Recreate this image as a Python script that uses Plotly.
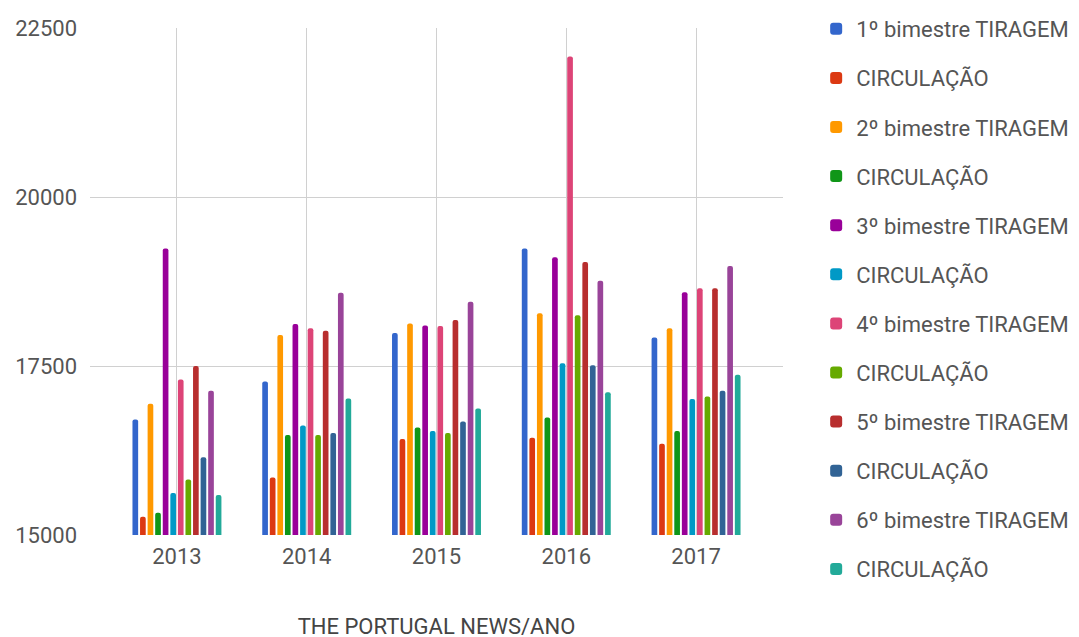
import plotly.graph_objects as go

years = ["2013", "2014", "2015", "2016", "2017"]

series_names = [
    "1º bimestre TIRAGEM", "CIRCULAÇÃO",
    "2º bimestre TIRAGEM", "CIRCULAÇÃO",
    "3º bimestre TIRAGEM", "CIRCULAÇÃO",
    "4º bimestre TIRAGEM", "CIRCULAÇÃO",
    "5º bimestre TIRAGEM", "CIRCULAÇÃO",
    "6º bimestre TIRAGEM", "CIRCULAÇÃO",
]

b1_tiragem = [16710, 17270, 17990, 19240, 17920]
b1_circ = [15270, 15850, 16420, 16440, 16350]
b2_tiragem = [16940, 17960, 18130, 18280, 18060]
b2_circ = [15330, 16480, 16590, 16740, 16540]
b3_tiragem = [19240, 18120, 18100, 19110, 18590]
b3_circ = [15620, 16620, 16540, 17540, 17010]
b4_tiragem = [17300, 18060, 18090, 22080, 18650]
b4_circ = [15820, 16480, 16510, 18250, 17050]
b5_tiragem = [17500, 18020, 18180, 19040, 18650]
b5_circ = [16150, 16510, 16680, 17510, 17135]
b6_tiragem = [17135, 18585, 18450, 18760, 18980]
b6_circ = [15590, 17020, 16870, 17110, 17370]

all_values = [b1_tiragem, b1_circ, b2_tiragem, b2_circ, b3_tiragem, b3_circ,
              b4_tiragem, b4_circ, b5_tiragem, b5_circ, b6_tiragem, b6_circ]

colors = ["#3366cc", "#dc3912", "#ff9900", "#109618", "#990099", "#0099c6",
          "#dd4477", "#66aa00", "#b82e2e", "#316395", "#994499", "#22aa99"]

y_ticks = [15000, 17500, 20000, 22500]
x_title = "THE PORTUGAL NEWS/ANO"

fig = go.Figure()
for i, (name, vals, col) in enumerate(zip(series_names, all_values, colors)):
    fig.add_trace(go.Bar(
        x=years, y=vals, name=name, marker_color=col,
        marker_line_width=0, legendgroup=f"g{i}",
    ))

font_family = "Roboto, Arial, sans-serif"

# page has an 8px body margin; margins below compensate for it
fig.update_layout(
    width=1079, height=637,
    margin=dict(l=82, r=304, t=20, b=110),
    paper_bgcolor="white", plot_bgcolor="white",
    barmode="group", bargap=0.3, bargroupgap=0.25,
    barcornerradius=2,
    font=dict(family=font_family, color="#555555"),
    showlegend=True,
    legend=dict(
        xref="container", yref="container",
        x=0.749, xanchor="left", y=1.0, yanchor="top",
        font=dict(size=22, color="#555555", family=font_family),
        tracegroupgap=17.5, bgcolor="rgba(0,0,0,0)",
        maxheight=1.0,
    ),
    xaxis=dict(
        type="category", range=[-0.67, 4.67], automargin=False,
        showgrid=True, gridcolor="#d0d0d0", gridwidth=1,
        showline=False, zeroline=False, ticks="",
        tickfont=dict(size=22, color="#555555"),
        ticklabelstandoff=6,
        title=dict(text=x_title, font=dict(size=22, color="#444444"), standoff=50),
    ),
    yaxis=dict(
        range=[15000, 22500], tickvals=y_ticks, automargin=False,
        ticktext=[str(v) for v in y_ticks],
        showgrid=True, gridcolor="#d0d0d0", gridwidth=1,
        zeroline=False, showline=False, ticks="",
        tickfont=dict(size=22, color="#555555"),
        ticklabelstandoff=12,
    ),
)

fig.write_html("out.html")
